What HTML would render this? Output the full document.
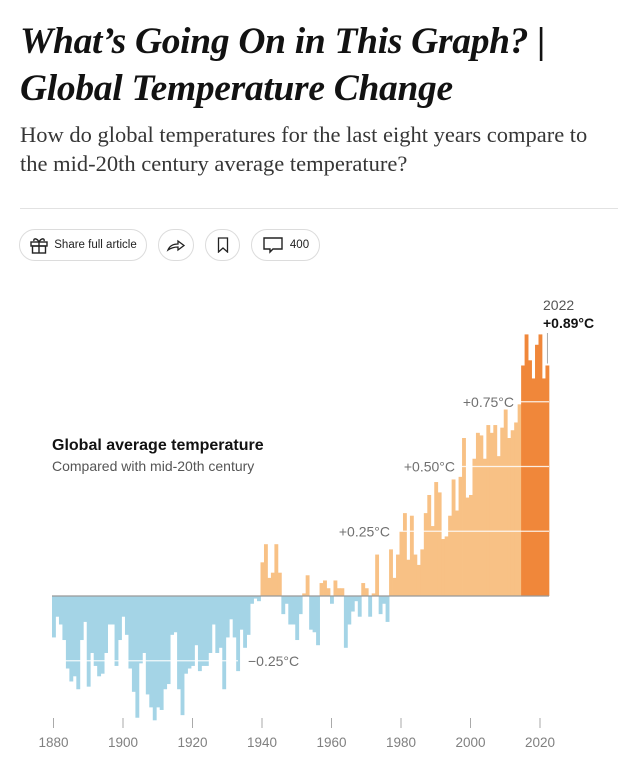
<!DOCTYPE html>
<html><head><meta charset="utf-8">
<style>
body{margin:0;background:#fff;width:637px;height:762px;overflow:hidden;font-family:"Liberation Sans",sans-serif;}
.t{position:absolute;left:20px;top:18px;font-family:"Liberation Serif",serif;font-weight:bold;font-style:italic;font-size:37.5px;line-height:47px;color:#121212;letter-spacing:-0.3px;white-space:nowrap}
.s{position:absolute;left:20px;top:120px;font-family:"Liberation Serif",serif;font-size:22.5px;line-height:29px;color:#363636;white-space:nowrap}
.hr{position:absolute;left:20px;top:208px;width:598px;height:1px;background:#e2e2e2}
.btn{position:absolute;top:229px;height:32px;border:1px solid #dcdcdc;border-radius:17px;box-sizing:border-box;font-size:11.5px;color:#222;display:flex;align-items:center;justify-content:center}
</style></head><body>
<div class="t">What’s Going On in This Graph? |<br>Global Temperature Change</div>
<div class="s">How do global temperatures for the last eight years compare to<br>the mid-20th century average temperature?</div>
<div class="hr"></div>
<div class="btn" style="left:19px;width:128px">
<svg width="20" height="18" viewBox="0 0 20 18" style="margin-right:5px"><g fill="none" stroke="#222" stroke-width="1.4"><rect x="2" y="6" width="16" height="4"/><rect x="3.5" y="10" width="13" height="7"/><path d="M10 6v11M10 6C8 2 4 2 5 5M10 6c2-4 6-4 5-1"/></g></svg>Share full article</div>
<div class="btn" style="left:158px;width:36px"><svg width="20" height="16" viewBox="0 0 20 16"><path d="M2 13c2-5 6-6 10-6V4l6 4.5-6 4.5v-3c-4 0-7 1-10 3z" fill="none" stroke="#222" stroke-width="1.3"/></svg></div>
<div class="btn" style="left:205px;width:35px"><svg width="12" height="16" viewBox="0 0 12 16"><path d="M1.5 1h9v14L6 11l-4.5 4z" fill="none" stroke="#222" stroke-width="1.3"/></svg></div>
<div class="btn" style="left:251px;width:69px"><svg width="22" height="18" viewBox="0 0 22 18" style="margin-right:6px"><path d="M2 2h18v11H11l-3 3v-3H2z" fill="none" stroke="#222" stroke-width="1.4"/></svg>400</div>

<svg id="chart" width="637" height="762" style="position:absolute;left:0;top:0"></svg>
<script>
const years=[];for(let y=1880;y<=2022;y++)years.push(y);
const anomalies=[
-0.16,-0.08,-0.11,-0.17,-0.28,-0.33,-0.31,-0.36,-0.17,-0.10,
-0.35,-0.22,-0.27,-0.31,-0.30,-0.22,-0.11,-0.11,-0.27,-0.17,
-0.08,-0.15,-0.28,-0.37,-0.47,-0.26,-0.22,-0.38,-0.43,-0.48,
-0.43,-0.44,-0.36,-0.34,-0.15,-0.14,-0.36,-0.46,-0.30,-0.28,
-0.27,-0.19,-0.29,-0.27,-0.27,-0.22,-0.11,-0.22,-0.20,-0.36,
-0.16,-0.09,-0.16,-0.29,-0.13,-0.20,-0.15,-0.03,-0.01,-0.02,
0.13,0.20,0.07,0.09,0.20,0.09,-0.07,-0.03,-0.11,-0.11,
-0.17,-0.07,0.01,0.08,-0.13,-0.14,-0.19,0.05,0.06,0.03,
-0.03,0.06,0.03,0.03,-0.20,-0.11,-0.06,-0.02,-0.08,0.05,
0.03,-0.08,0.01,0.16,-0.07,-0.03,-0.10,0.18,0.07,0.16,
0.25,0.32,0.14,0.31,0.16,0.12,0.18,0.32,0.39,0.27,
0.44,0.40,0.22,0.23,0.31,0.45,0.33,0.46,0.61,0.38,
0.39,0.53,0.63,0.62,0.53,0.66,0.63,0.66,0.54,0.65,
0.72,0.61,0.64,0.67,0.74,0.89,1.01,0.91,0.84,0.97,
1.01,0.84,0.89];
const gridValues=[-0.25,0.25,0.5,0.75];
const gridLabels=["−0.25°C","+0.25°C","+0.50°C","+0.75°C"];
const tickYears=[1880,1900,1920,1940,1960,1980,2000,2020];

const NS="http://www.w3.org/2000/svg",svg=document.getElementById('chart');
const X0=52,PX=3.475,Y0=596,PY=259;
const xs=y=>X0+(y-1880)*PX, ys=v=>Y0-v*PY;
function mk(t,a){const e=document.createElementNS(NS,t);for(const k in a)e.setAttribute(k,a[k]);svg.appendChild(e);return e;}
years.forEach((yr,i)=>{const v=anomalies[i];
 const fill=v<0?'#a4d4e6':(yr>=2015?'#f0873a':'#f8c185');
 const r=mk('rect',{x:xs(yr),y:Math.min(ys(v),Y0),width:PX+0.4,height:Math.abs(v)*PY,fill:fill});
 
 
});
const gridStart=[52,395,460,519], gridEnd=[238,549,549,549];
gridValues.forEach((v,i)=>{
 const l=mk('line',{x1:gridStart[i],x2:gridEnd[i],y1:ys(v),y2:ys(v),stroke:'#fff','stroke-width':1.2,opacity:0.85});
 
 
 const t=mk('text',{x:v<0?248:gridStart[i]-5,y:ys(v)+5,'font-size':14,fill:'#707070','text-anchor':v<0?'start':'end','font-family':'Liberation Sans'});
 t.textContent=gridLabels[i];
 
 
});
const bl=mk('line',{x1:52,x2:549,y1:Y0,y2:Y0,stroke:'#999','stroke-width':1.3});


tickYears.forEach(y=>{
 const x=xs(y)+1.5;
 const tk=mk('line',{x1:x,x2:x,y1:718,y2:728,stroke:'#aaa','stroke-width':1});
 
 
 const t=mk('text',{x:x,y:747,'font-size':13.5,fill:'#808080','text-anchor':'middle','font-family':'Liberation Sans'});
 t.textContent=y;
 
 
});
const last=anomalies[anomalies.length-1];
const al=mk('line',{x1:xs(2022)+2,x2:xs(2022)+2,y1:333,y2:ys(last)-2,stroke:'#aaa','stroke-width':1});


const a1=mk('text',{x:543,y:310,'font-size':14,fill:'#555','font-family':'Liberation Sans'});a1.textContent='2022';


const a2=mk('text',{x:543,y:328,'font-size':14,'font-weight':'bold',fill:'#121212','font-family':'Liberation Sans'});a2.textContent='+'+last.toFixed(2)+'°C';


const c1=mk('text',{x:52,y:450,'font-size':16,'font-weight':'bold',fill:'#121212','font-family':'Liberation Sans'});c1.textContent='Global average temperature';


const c2=mk('text',{x:52,y:471,'font-size':14,fill:'#555','font-family':'Liberation Sans'});c2.textContent='Compared with mid-20th century';


</script>
</body></html>
